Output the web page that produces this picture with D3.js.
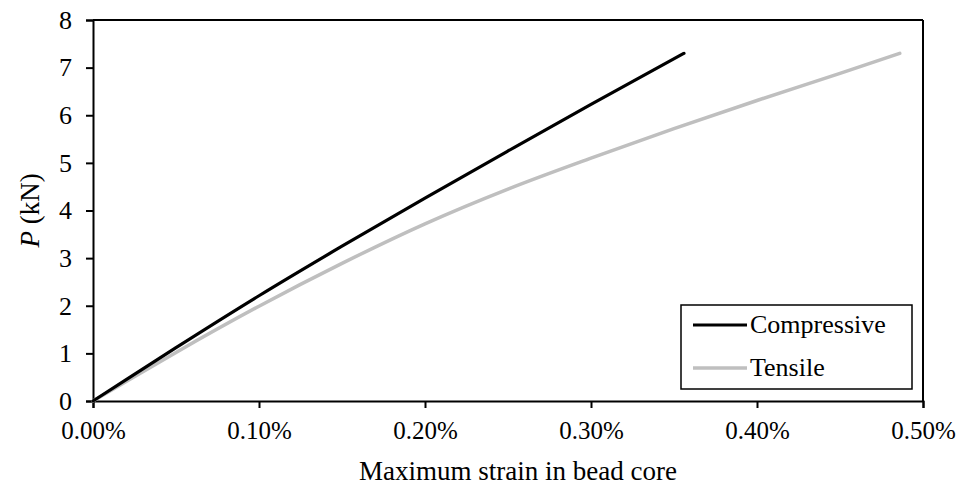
<!DOCTYPE html>
<html><head><meta charset="utf-8">
<script src="https://cdn.jsdelivr.net/npm/d3@7"></script>
<style>body{margin:0;background:#fff}svg{display:block}text{font-family:"Liberation Serif","Times New Roman",serif;fill:#000}</style>
</head><body>
<script>
const compStrain = [0, 0.02, 0.05, 0.10, 0.15, 0.20, 0.25, 0.30, 0.356];
const compLoad   = [0, 0.45, 1.12, 2.21, 3.25, 4.26, 5.25, 6.23, 7.30];
const tensStrain = [0, 0.02, 0.05, 0.10, 0.15, 0.20, 0.25, 0.30, 0.35, 0.40, 0.45, 0.486];
const tensLoad   = [0, 0.41, 1.02, 1.99, 2.89, 3.72, 4.45, 5.10, 5.72, 6.31, 6.88, 7.30];
const xTicks = [0, 0.1, 0.2, 0.3, 0.4, 0.5];
const yTicks = [0, 1, 2, 3, 4, 5, 6, 7, 8];
const seriesNames = ["Compressive", "Tensile"];
const seriesColors = ["#000000", "#bfbfbf"];

const W = 963, H = 487;
const m = {left: 93, top: 20, right: 40, bottom: 86};
const svg = d3.select("body").append("svg").attr("width", W).attr("height", H);
const x = d3.scaleLinear().domain([0, 0.5]).range([m.left, W - m.right]);
const y = d3.scaleLinear().domain([0, 8]).range([H - m.bottom, m.top]);

// frame top/right
svg.append("line").attr("x1", x(0)).attr("x2", x(0.5)).attr("y1", y(8)).attr("y2", y(8)).attr("stroke", "#000").attr("stroke-width", 2);
svg.append("line").attr("x1", x(0.5)).attr("x2", x(0.5)).attr("y1", y(8)).attr("y2", y(0)).attr("stroke", "#000").attr("stroke-width", 2);

const xAxis = svg.append("g").attr("transform", `translate(0,${y(0)})`)
  .call(d3.axisBottom(x).tickValues(xTicks).tickSize(7).tickPadding(13).tickFormat(d => d.toFixed(2) + "%"));
const yAxis = svg.append("g").attr("transform", `translate(${x(0)},0)`)
  .call(d3.axisLeft(y).tickValues(yTicks).tickSize(7).tickPadding(14).tickFormat(d3.format("d")));
[xAxis, yAxis].forEach(g => {
  g.select(".domain").attr("stroke", "#000").attr("stroke-width", 2);
  g.selectAll(".tick line").attr("stroke", "#000").attr("stroke-width", 2);
  g.selectAll("text").attr("font-family", '"Liberation Serif", serif').attr("fill", "#000");
});
xAxis.selectAll("text").attr("font-size", 25);
yAxis.selectAll("text").attr("font-size", 26);

const line = d3.line().x(d => x(d[0])).y(d => y(d[1])).curve(d3.curveMonotoneX);
const comp = compStrain.map((s, i) => [s, compLoad[i]]);
const tens = tensStrain.map((s, i) => [s, tensLoad[i]]);
svg.append("path").attr("d", line(tens)).attr("fill", "none").attr("stroke", seriesColors[1]).attr("stroke-width", 3.5).attr("stroke-linecap", "round");
svg.append("path").attr("d", line(comp)).attr("fill", "none").attr("stroke", seriesColors[0]).attr("stroke-width", 3.2).attr("stroke-linecap", "round");

// axis titles
svg.append("text").attr("x", 518).attr("y", 480).attr("text-anchor", "middle").attr("font-size", 27)
  .text("Maximum strain in bead core");
const yt = svg.append("text").attr("transform", `translate(39,${(y(0)+y(8))/2}) rotate(-90)`).attr("text-anchor", "middle").attr("font-size", 27);
yt.append("tspan").attr("font-style", "italic").text("P");
yt.append("tspan").text(" (kN)");

// legend
const lg = svg.append("g");
lg.append("rect").attr("x", 681).attr("y", 305).attr("width", 231).attr("height", 84).attr("fill", "#fff").attr("stroke", "#000").attr("stroke-width", 1.5);
seriesNames.forEach((n, i) => {
  const ly = 325 + i * 43;
  lg.append("line").attr("x1", 693).attr("x2", 747).attr("y1", ly).attr("y2", ly).attr("stroke", seriesColors[i]).attr("stroke-width", i ? 3.5 : 3.2);
  lg.append("text").attr("x", 750).attr("y", ly + 8).attr("font-size", 26).text(n);
});
</script>
</body></html>
